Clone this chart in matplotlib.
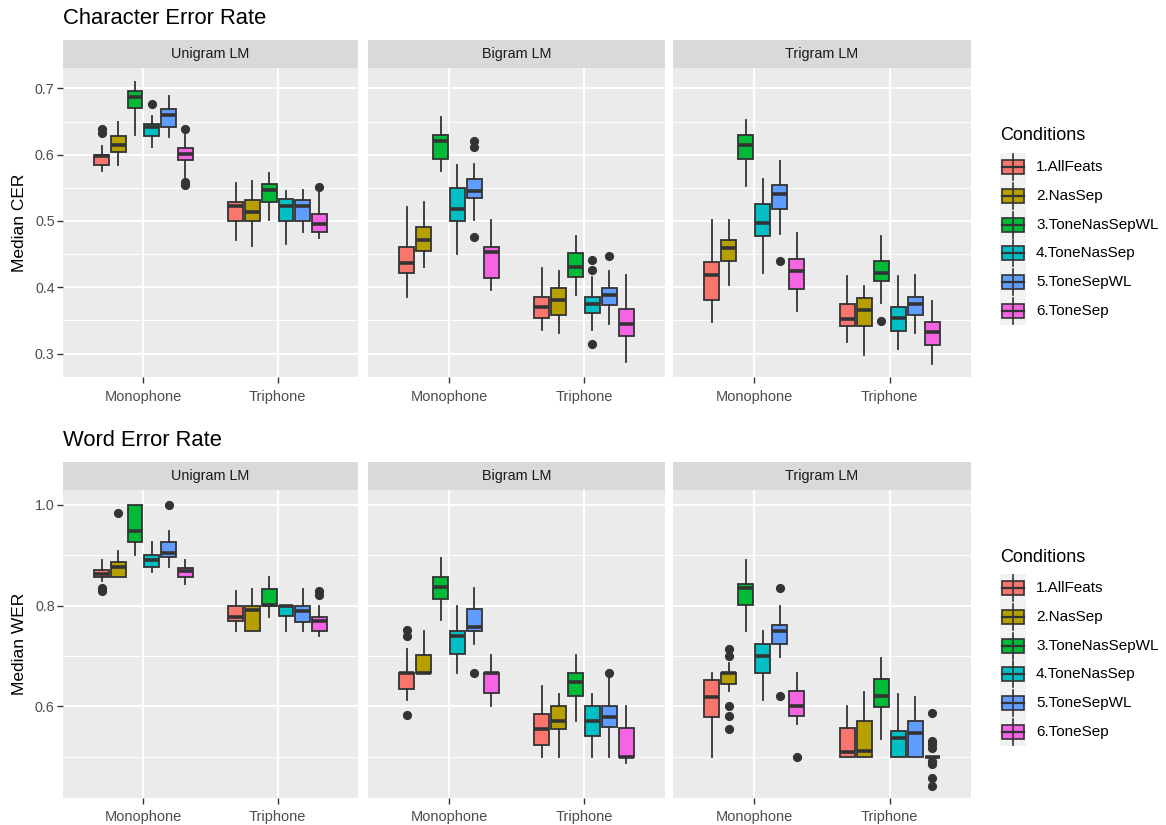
import matplotlib.pyplot as plt
from matplotlib.patches import Rectangle

plt.rcParams['font.family'] = ['Liberation Sans', 'DejaVu Sans']

conditions = ['1.AllFeats', '2.NasSep', '3.ToneNasSepWL',
              '4.ToneNasSep', '5.ToneSepWL', '6.ToneSep']
colors = ['#F8766D', '#B79F00', '#00BA38', '#00BFC4', '#619CFF', '#F564E3']
lm_names = ['Unigram LM', 'Bigram LM', 'Trigram LM']
phones = ['Monophone', 'Triphone']

# box summaries per condition: lower whisker, q1, median, q3, upper whisker
cer_uni_mono = [[0.576, 0.585, 0.598, 0.600, 0.613],
                [0.585, 0.604, 0.615, 0.628, 0.650],
                [0.630, 0.670, 0.687, 0.696, 0.710],
                [0.611, 0.628, 0.642, 0.646, 0.658],
                [0.626, 0.642, 0.660, 0.669, 0.689],
                [0.567, 0.592, 0.601, 0.610, 0.630]]
cer_uni_mono_out = [[0.632, 0.638], [], [], [0.676], [], [0.638, 0.559, 0.555]]
cer_uni_tri = [[0.471, 0.500, 0.522, 0.529, 0.558],
               [0.462, 0.500, 0.513, 0.531, 0.560],
               [0.501, 0.529, 0.547, 0.556, 0.573],
               [0.466, 0.500, 0.523, 0.533, 0.545],
               [0.483, 0.500, 0.523, 0.531, 0.547],
               [0.474, 0.484, 0.496, 0.511, 0.544]]
cer_uni_tri_out = [[], [], [], [], [], [0.551]]

cer_bi_mono = [[0.386, 0.422, 0.437, 0.461, 0.521],
               [0.431, 0.454, 0.472, 0.491, 0.528],
               [0.576, 0.594, 0.621, 0.629, 0.657],
               [0.450, 0.500, 0.518, 0.549, 0.584],
               [0.502, 0.535, 0.545, 0.563, 0.586],
               [0.396, 0.414, 0.453, 0.461, 0.501]]
cer_bi_mono_out = [[], [], [], [], [0.621, 0.611, 0.476], []]
cer_bi_tri = [[0.335, 0.354, 0.371, 0.385, 0.429],
              [0.331, 0.358, 0.381, 0.399, 0.424],
              [0.388, 0.416, 0.431, 0.452, 0.477],
              [0.335, 0.361, 0.375, 0.386, 0.415],
              [0.344, 0.373, 0.388, 0.399, 0.425],
              [0.288, 0.326, 0.344, 0.367, 0.418]]
cer_bi_tri_out = [[], [], [], [0.441, 0.426, 0.315], [0.447], []]

cer_tri_mono = [[0.348, 0.381, 0.418, 0.438, 0.502],
                [0.404, 0.439, 0.459, 0.471, 0.502],
                [0.553, 0.594, 0.615, 0.629, 0.652],
                [0.422, 0.478, 0.497, 0.526, 0.564],
                [0.481, 0.518, 0.541, 0.555, 0.590],
                [0.364, 0.398, 0.425, 0.443, 0.482]]
cer_tri_mono_out = [[], [], [], [], [0.440], []]
cer_tri_tri = [[0.317, 0.341, 0.352, 0.375, 0.417],
               [0.298, 0.341, 0.366, 0.384, 0.402],
               [0.377, 0.409, 0.422, 0.439, 0.477],
               [0.307, 0.334, 0.354, 0.371, 0.417],
               [0.331, 0.358, 0.375, 0.385, 0.418],
               [0.284, 0.313, 0.333, 0.347, 0.380]]
cer_tri_tri_out = [[], [], [0.349], [], [], []]

wer_uni_mono = [[0.848, 0.857, 0.863, 0.870, 0.890],
                [0.857, 0.857, 0.876, 0.887, 0.908],
                [0.900, 0.925, 0.948, 1.000, 1.000],
                [0.866, 0.877, 0.890, 0.900, 0.925],
                [0.876, 0.896, 0.904, 0.925, 0.947],
                [0.842, 0.857, 0.869, 0.875, 0.890]]
wer_uni_mono_out = [[0.834, 0.829], [0.983], [], [], [1.000], []]
wer_uni_tri = [[0.750, 0.769, 0.778, 0.800, 0.829],
               [0.750, 0.750, 0.791, 0.800, 0.833],
               [0.777, 0.800, 0.801, 0.833, 0.857],
               [0.750, 0.780, 0.800, 0.800, 0.800],
               [0.750, 0.767, 0.790, 0.800, 0.833],
               [0.739, 0.750, 0.770, 0.777, 0.800]]
wer_uni_tri_out = [[], [], [], [], [], [0.828, 0.821]]

wer_bi_mono = [[0.613, 0.634, 0.667, 0.667, 0.714],
               [0.667, 0.667, 0.667, 0.701, 0.750],
               [0.771, 0.813, 0.837, 0.857, 0.895],
               [0.667, 0.703, 0.739, 0.750, 0.799],
               [0.723, 0.749, 0.758, 0.794, 0.834],
               [0.601, 0.626, 0.667, 0.667, 0.701]]
wer_bi_mono_out = [[0.752, 0.739, 0.583], [], [], [], [0.666], []]
wer_bi_tri = [[0.500, 0.523, 0.555, 0.585, 0.640],
              [0.500, 0.555, 0.572, 0.600, 0.624],
              [0.572, 0.621, 0.648, 0.667, 0.701],
              [0.500, 0.541, 0.572, 0.600, 0.624],
              [0.500, 0.559, 0.579, 0.600, 0.656],
              [0.488, 0.500, 0.500, 0.558, 0.600]]
wer_bi_tri_out = [[], [], [], [], [0.666], []]

wer_tri_mono = [[0.500, 0.579, 0.619, 0.652, 0.667],
                [0.631, 0.644, 0.667, 0.667, 0.687],
                [0.750, 0.801, 0.834, 0.843, 0.890],
                [0.613, 0.666, 0.699, 0.723, 0.750],
                [0.697, 0.724, 0.750, 0.762, 0.799],
                [0.565, 0.582, 0.601, 0.630, 0.667]]
wer_tri_mono_out = [[], [0.714, 0.700, 0.600, 0.582, 0.556], [], [],
                    [0.834, 0.620], [0.500]]
wer_tri_tri = [[0.500, 0.500, 0.509, 0.558, 0.600],
               [0.500, 0.500, 0.511, 0.572, 0.628],
               [0.535, 0.599, 0.621, 0.654, 0.696],
               [0.500, 0.500, 0.537, 0.551, 0.625],
               [0.500, 0.500, 0.547, 0.572, 0.618],
               [0.500, 0.500, 0.500, 0.500, 0.500]]
wer_tri_tri_out = [[], [], [], [], [],
                   [0.586, 0.531, 0.525, 0.518, 0.491, 0.485, 0.458, 0.443]]

W, H = 1166, 825
fig = plt.figure(figsize=(W / 100, H / 100), dpi=100)
fig.patch.set_facecolor('white')


def frect(x0, x1, y0, y1):
    # pixel box (top-left origin) -> figure fraction rect
    return [x0 / W, 1 - y1 / H, (x1 - x0) / W, (y1 - y0) / H]


col_px = [(63, 358), (368, 665), (673, 971)]

rows = [
    dict(title='Character Error Rate', title_y=18, strip=(40, 68), panel=(68, 377),
         ylim=(0.2647, 0.7307), major=[0.3, 0.4, 0.5, 0.6, 0.7],
         minor=[0.35, 0.45, 0.55, 0.65], ylabel='Median CER', legend_y=136,
         data=[(cer_uni_mono, cer_uni_mono_out, cer_uni_tri, cer_uni_tri_out),
               (cer_bi_mono, cer_bi_mono_out, cer_bi_tri, cer_bi_tri_out),
               (cer_tri_mono, cer_tri_mono_out, cer_tri_tri, cer_tri_tri_out)]),
    dict(title='Word Error Rate', title_y=440, strip=(462, 490), panel=(490, 798),
         ylim=(0.4185, 1.029), major=[0.6, 0.8, 1.0],
         minor=[0.5, 0.7, 0.9], ylabel='Median WER', legend_y=557,
         data=[(wer_uni_mono, wer_uni_mono_out, wer_uni_tri, wer_uni_tri_out),
               (wer_bi_mono, wer_bi_mono_out, wer_bi_tri, wer_bi_tri_out),
               (wer_tri_mono, wer_tri_mono_out, wer_tri_tri, wer_tri_tri_out)]),
]

edge = '#333333'
dodge = 0.125
box_w = 0.11

for r in rows:
    fig.text(63 / W, 1 - r['title_y'] / H, r['title'], fontsize=15.8,
             ha='left', va='center', color='black')
    py0, py1 = r['panel']
    fig.text(20 / W, 1 - (py0 + py1) / 2 / H, r['ylabel'], fontsize=12.5,
             rotation=90, ha='center', va='center')

    for j, (x0, x1) in enumerate(col_px):
        ax = fig.add_axes(frect(x0, x1, py0, py1))
        ax.set_facecolor('#EBEBEB')
        ax.set_xlim(0.4, 2.6)
        ax.set_ylim(*r['ylim'])
        for s in ax.spines.values():
            s.set_visible(False)
        for y in r['minor']:
            ax.axhline(y, color='white', lw=0.7, zorder=0.5)
        for y in r['major']:
            ax.axhline(y, color='white', lw=1.4, zorder=0.6)
        for x in (1, 2):
            ax.axvline(x, color='white', lw=1.4, zorder=0.6)

        mono, mono_out, tri, tri_out = r['data'][j]
        for g, (summ, outs) in enumerate([(mono, mono_out), (tri, tri_out)]):
            stats, pos = [], []
            for i, (lo, q1, med, q3, hi) in enumerate(summ):
                stats.append(dict(whislo=lo, q1=q1, med=med, q3=q3, whishi=hi,
                                  fliers=outs[i]))
                pos.append(g + 1 + (i - 2.5) * dodge)
            res = ax.bxp(stats, positions=pos, widths=box_w, patch_artist=True,
                         showcaps=False, manage_ticks=False,
                         boxprops=dict(edgecolor=edge, linewidth=1.3),
                         whiskerprops=dict(color=edge, linewidth=1.3),
                         medianprops=dict(color=edge, linewidth=2.6,
                                          solid_capstyle='butt'),
                         flierprops=dict(marker='o', markerfacecolor=edge,
                                         markeredgecolor=edge, markersize=5.6))
            for b, c in zip(res['boxes'], colors):
                b.set_facecolor(c)

        ax.set_xticks([1, 2])
        ax.set_xticklabels(phones, fontsize=10.5, color='#4D4D4D')
        ax.tick_params(axis='x', length=4, width=1, color=edge, pad=5)
        if j == 0:
            ax.set_yticks(r['major'])
            ax.set_yticklabels([f'{v:.1f}' for v in r['major']],
                               fontsize=10.3, color='#4D4D4D')
            ax.tick_params(axis='y', length=4, width=1, color=edge, pad=2)
        else:
            ax.set_yticks(r['major'])
            ax.tick_params(axis='y', left=False, labelleft=False)

        sy0, sy1 = r['strip']
        sax = fig.add_axes(frect(x0, x1, sy0, sy1))
        sax.set_facecolor('#D9D9D9')
        sax.set_xticks([])
        sax.set_yticks([])
        for s in sax.spines.values():
            s.set_visible(False)
        sax.text(0.5, 0.5, lm_names[j], ha='center', va='center',
                 fontsize=10.4, color='#1A1A1A', transform=sax.transAxes)

# legends drawn on a full-figure overlay in pixel units
lax = fig.add_axes([0, 0, 1, 1])
lax.set_xlim(0, W)
lax.set_ylim(H, 0)
lax.axis('off')
for r in rows:
    ty = r['legend_y']
    lax.text(1000, ty, 'Conditions', fontsize=13, ha='left', va='center')
    for i, (lab, c) in enumerate(zip(conditions, colors)):
        cy = ty + 31 + i * 28.8
        lax.add_patch(Rectangle((1000, cy - 14.4), 26, 28.8,
                                facecolor='#F2F2F2', edgecolor='none'))
        lax.plot([1013, 1013], [cy - 13, cy + 13], color=edge, lw=1.2)
        lax.add_patch(Rectangle((1002, cy - 7), 22, 14, facecolor=c,
                                edgecolor=edge, lw=1.2))
        lax.plot([1002, 1024], [cy, cy], color=edge, lw=1.6)
        lax.text(1036, cy, lab, fontsize=11, ha='left', va='center')

fig.savefig('out.png', dpi=100)
